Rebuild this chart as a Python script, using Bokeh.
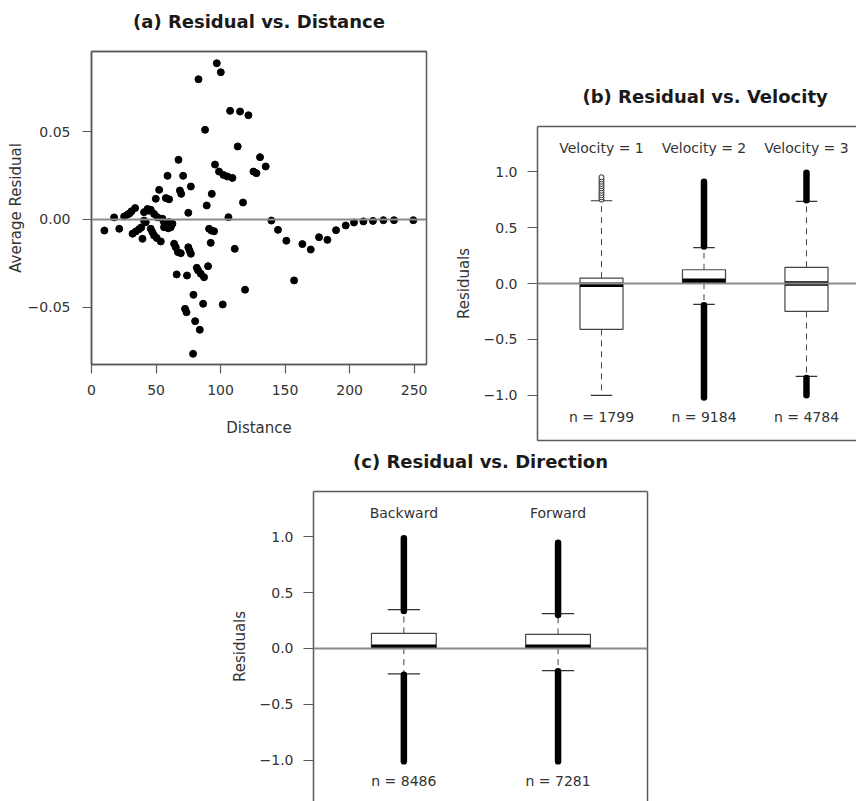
from bokeh.plotting import figure
from bokeh.models import Span, FixedTicker, LinearAxis, Range1d, ColumnDataSource
from bokeh.layouts import column, row, Spacer
from bokeh.embed import file_html
from bokeh.resources import INLINE
from bokeh.core.properties import value

FONT = "DejaVu Sans"
TXT = "#333333"
FRAME = "#5a5a5a"

# ---------------- (a) Residual vs. Distance ----------------
distance = [10, 17.5, 21.5, 25.3, 27.9, 29.5, 31, 33.8,
            31.8, 34.3, 36.9, 38.5, 39.5,
            40.7, 43.4, 44.5, 45.9, 48.5, 51.1,
            40.7, 42, 45.9, 47.2, 48.5, 50.5, 53.7,
            55, 56.2, 57.6, 60.1, 62.7, 61.4, 56.2, 59.5,
            49.8, 52.4, 57.6, 60.1, 58.9,
            68.5, 69.5, 77, 75, 67.4, 71,
            64, 65.3, 67, 69.2, 75, 76, 77,
            66, 74, 81.6, 82.6, 84.7, 87.2, 90.3,
            79, 72.5, 73.6, 80.3, 83.9, 86.5, 78.7,
            101.7, 119, 111, 89.3, 93.2, 91.1, 92.9, 95, 92.4,
            106.1, 117.4, 97.1, 100.2, 82.9, 107.4, 115.1, 121.6,
            88, 113.3, 130.6, 135, 95.7, 98.8, 102.2, 105.3, 109.2,
            125.5, 127.8,
            139.4, 144.5, 151, 157, 163.4, 169.9, 176.3, 182.8, 189.5,
            197, 203.4, 210.7, 218.1, 226.2, 234.4, 249.4]
avg_residual = [-0.0063, 0.0012, -0.0053, 0.0017, 0.0028, 0.0035, 0.0047, 0.0065,
                -0.0081, -0.0068, -0.0055, -0.0045, -0.0110,
                0.0042, 0.0060, 0.0050, 0.0055, 0.0032, 0.0013,
                -0.0006, -0.0015, -0.0053, -0.0072, -0.0091, -0.0105, -0.0125,
                0.0004, -0.0015, -0.0024, -0.0015, -0.0024, -0.0044, -0.0044, -0.0050,
                0.0118, 0.0169, 0.0122, 0.0115, 0.0249,
                0.0165, 0.0146, 0.0188, 0.0038, 0.0340, 0.0249,
                -0.0138, -0.0158, -0.0186, -0.0192, -0.0158, -0.0177, -0.0195,
                -0.0313, -0.0319, -0.0275, -0.0290, -0.0309, -0.0329, -0.0266,
                -0.0429, -0.0509, -0.0528, -0.0579, -0.0628, -0.0480, -0.0765,
                -0.0484, -0.0400, -0.0167, 0.0080, 0.0146, -0.0053, -0.0063, -0.0067, -0.0133,
                0.0013, 0.0097, 0.0890, 0.0839, 0.0799, 0.0619, 0.0615, 0.0594,
                0.0511, 0.0416, 0.0355, 0.0302, 0.0313, 0.0273, 0.0254, 0.0245, 0.0237,
                0.0273, 0.0264,
                -0.0006, -0.0059, -0.0121, -0.0347, -0.0140, -0.0171, -0.0101, -0.0116, -0.0061,
                -0.0034, -0.0017, -0.0011, -0.0008, -0.0004, -0.0004, -0.0004]
dist_ticks = [0, 50, 100, 150, 200, 250]
resid_ticks = [-0.05, 0.0, 0.05]
resid_tick_labels = ["\u22120.05", "0.00", "0.05"]

# ---------------- (b) Residual vs. Velocity ----------------
vel_pos = [1, 2, 3]
vel_labels = ["Velocity = 1", "Velocity = 2", "Velocity = 3"]
vel_n = ["n = 1799", "n = 9184", "n = 4784"]
vel_q1 = [-0.41, 0.003, -0.25]
vel_med = [-0.012, 0.025, 0.0]
vel_q3 = [0.048, 0.123, 0.145]
vel_whisk_lo = [-1.0, -0.186, -0.83]
vel_whisk_hi = [0.74, 0.32, 0.735]
# dense outlier runs (drawn as overlapping circles -> solid bar)
vel_out_hi_from = [None, 0.33, 0.745]
vel_out_hi_to = [None, 0.91, 0.99]
vel_out_lo_from = [None, -0.195, -0.845]
vel_out_lo_to = [None, -1.02, -1.0]
# sparse outliers of Velocity = 1
vel1_outliers = [0.75, 0.77, 0.79, 0.81, 0.83, 0.85, 0.87, 0.89, 0.91, 0.93, 0.95]

# ---------------- (c) Residual vs. Direction ----------------
dir_pos = [1, 2]
dir_labels = ["Backward", "Forward"]
dir_n = ["n = 8486", "n = 7281"]
dir_q1 = [0.003, 0.003]
dir_med = [0.015, 0.015]
dir_q3 = [0.135, 0.126]
dir_whisk_lo = [-0.228, -0.198]
dir_whisk_hi = [0.348, 0.312]
dir_out_hi_from = [0.335, 0.30]
dir_out_hi_to = [0.985, 0.945]
dir_out_lo_from = [-0.235, -0.205]
dir_out_lo_to = [-1.01, -1.01]

box_ticks = [-1.0, -0.5, 0.0, 0.5, 1.0]
box_tick_labels = ["\u22121.0", "\u22120.5", "0.0", "0.5", "1.0"]

BOX_HALF = 0.21
CAP_HALF = 0.105
LABEL_TOP = 1.215
LABEL_BOTTOM = -1.19


def base_style(p):
    p.title.text_font = FONT
    p.title.text_font_size = "18px"
    p.title.text_font_style = "bold"
    p.title.text_color = "#1a1a1a"
    p.title.align = "center"
    p.title.standoff = 12
    p.background_fill_color = "white"
    p.border_fill_color = "white"
    p.xgrid.visible = False
    p.ygrid.visible = False
    for ax in p.axis:
        ax.axis_line_color = FRAME
        ax.axis_line_width = 1.5
        ax.major_tick_line_color = FRAME
        ax.major_tick_line_width = 1.2
        ax.major_tick_out = 10
        ax.major_tick_in = 0
        ax.minor_tick_line_color = None
        ax.major_label_text_font = FONT
        ax.major_label_text_font_size = "14px"
        ax.major_label_text_color = TXT
        ax.axis_label_text_font = FONT
        ax.axis_label_text_font_size = "15px"
        ax.axis_label_text_font_style = "normal"
        ax.axis_label_text_color = TXT


def border_axis(p, side, pad=False):
    ax = LinearAxis(ticker=FixedTicker(ticks=[]), axis_line_color=FRAME, axis_line_width=1.5,
                    major_tick_line_color=None, minor_tick_line_color=None,
                    major_tick_out=0, major_tick_in=0,
                    major_label_text_font_size="0px", major_label_standoff=0)
    if pad:
        # blank label only reserves room between frame and title
        ax.axis_label = " "
        ax.axis_label_text_font_size = "10px"
        ax.axis_label_standoff = 0
    p.add_layout(ax, side)
    return ax


# ---- figure (a)
pa = figure(width=430, height=442, output_backend="svg", toolbar_location=None,
            title="(a) Residual vs. Distance",
            x_range=Range1d(-0.01, 259.6), y_range=Range1d(-0.0826, 0.0957),
            min_border_left=91, min_border_right=4, min_border_top=51, min_border_bottom=78)
pa.add_layout(Span(location=0, dimension="width", line_color="#8a8a8a", line_width=2))
pa.scatter(distance, avg_residual, size=7, color="black")
base_style(pa)
pa.outline_line_color = FRAME
pa.outline_line_width = 1.5
pa.xaxis.ticker = FixedTicker(ticks=dist_ticks)
pa.yaxis.ticker = FixedTicker(ticks=resid_ticks)
pa.yaxis.major_label_overrides = dict(zip(resid_ticks, resid_tick_labels))
pa.xaxis.axis_label = "Distance"
pa.yaxis.axis_label = "Average Residual"
pa.xaxis.major_tick_out = 9
pa.yaxis.major_tick_out = 9
pa.xaxis.major_label_standoff = 11
pa.yaxis.major_label_standoff = 12
pa.xaxis.axis_label_standoff = 21
pa.yaxis.axis_label_standoff = 0
border_axis(pa, "above", pad=True)


def boxplot(p, pos, q1, med, q3, wlo, whi, hi_from, hi_to, lo_from, lo_to, labels, ns):
    src = ColumnDataSource(dict(
        x=pos,
        left=[x - BOX_HALF for x in pos], right=[x + BOX_HALF for x in pos],
        cl=[x - CAP_HALF for x in pos], cr=[x + CAP_HALF for x in pos],
        q1=q1, med=med, q3=q3, wlo=wlo, whi=whi,
        ytop=[LABEL_TOP] * len(pos), ybot=[LABEL_BOTTOM] * len(pos),
        labels=labels, ns=ns))
    p.add_layout(Span(location=0, dimension="width", line_color="#8a8a8a", line_width=2))
    # whiskers (dashed)
    p.segment(x0="x", y0="q3", x1="x", y1="whi", source=src, line_color="#444444",
              line_width=1, line_dash="6 5")
    p.segment(x0="x", y0="q1", x1="x", y1="wlo", source=src, line_color="#444444",
              line_width=1, line_dash="6 5")
    # box
    p.quad(left="left", right="right", bottom="q1", top="q3", source=src,
           fill_color="white", line_color="#444444", line_width=1.2)
    # median
    p.segment(x0="left", y0="med", x1="right", y1="med", source=src,
              line_color="black", line_width=4.5)
    # staples
    p.segment(x0="cl", y0="whi", x1="cr", y1="whi", source=src, line_color="#333333", line_width=1.2)
    p.segment(x0="cl", y0="wlo", x1="cr", y1="wlo", source=src, line_color="#333333", line_width=1.2)
    # dense outlier runs
    hx, hy0, hy1 = [], [], []
    for x, a, b in zip(pos, hi_from, hi_to):
        if a is not None:
            hx.append(x); hy0.append(a); hy1.append(b)
    for x, a, b in zip(pos, lo_from, lo_to):
        if a is not None:
            hx.append(x); hy0.append(a); hy1.append(b)
    p.segment(x0=hx, y0=hy0, x1=hx, y1=hy1, line_color="black", line_width=6.5, line_cap="round")
    # texts
    p.text(x="x", y="ytop", text="labels", source=src, text_align="center", text_baseline="middle",
           text_font=value(FONT), text_font_size="14px", text_color=TXT)
    p.text(x="x", y="ybot", text="ns", source=src, text_align="center", text_baseline="middle",
           text_font=value(FONT), text_font_size="14px", text_color=TXT)


# ---- figure (b)
pb = figure(width=426, height=367, output_backend="svg", toolbar_location=None,
            title="(b) Residual vs. Velocity",
            x_range=Range1d(0.3756, 3.488), y_range=Range1d(-1.404, 1.404),
            x_axis_location=None,
            min_border_left=107, min_border_right=0, min_border_top=51, min_border_bottom=2)
boxplot(pb, vel_pos, vel_q1, vel_med, vel_q3, vel_whisk_lo, vel_whisk_hi,
        vel_out_hi_from, vel_out_hi_to, vel_out_lo_from, vel_out_lo_to, vel_labels, vel_n)
pb.scatter(x=[vel_pos[0]] * len(vel1_outliers), y=vel1_outliers, marker="circle", size=5,
           fill_color="white", line_color="#222222", line_width=1)
base_style(pb)
pb.title.align = "left"
pb.title.offset = 45
pb.outline_line_color = None
pb.yaxis.ticker = FixedTicker(ticks=box_ticks)
pb.yaxis.major_label_overrides = dict(zip(box_ticks, box_tick_labels))
pb.yaxis.axis_label = "Residuals"
pb.yaxis.major_label_standoff = 10
pb.yaxis.axis_label_standoff = 8
border_axis(pb, "above", pad=True)
border_axis(pb, "below")

# ---- figure (c)
pc = figure(width=451, height=359, output_backend="svg", toolbar_location=None,
            title="(c) Residual vs. Direction",
            x_range=Range1d(0.414, 2.58), y_range=Range1d(-1.369, 1.404),
            x_axis_location=None,
            min_border_left=115, min_border_right=2, min_border_top=49, min_border_bottom=0)
boxplot(pc, dir_pos, dir_q1, dir_med, dir_q3, dir_whisk_lo, dir_whisk_hi,
        dir_out_hi_from, dir_out_hi_to, dir_out_lo_from, dir_out_lo_to, dir_labels, dir_n)
base_style(pc)
pc.outline_line_color = None
pc.yaxis.ticker = FixedTicker(ticks=box_ticks)
pc.yaxis.major_label_overrides = dict(zip(box_ticks, box_tick_labels))
pc.yaxis.axis_label = "Residuals"
pc.yaxis.major_label_standoff = 10
pc.yaxis.axis_label_standoff = 8
border_axis(pc, "above", pad=True)
border_axis(pc, "right")

right_col = column(Spacer(width=426, height=75), pb)
layout = column(row(pa, right_col), row(Spacer(width=198, height=359), pc))

open("out.html", "w").write(file_html(layout, INLINE))
